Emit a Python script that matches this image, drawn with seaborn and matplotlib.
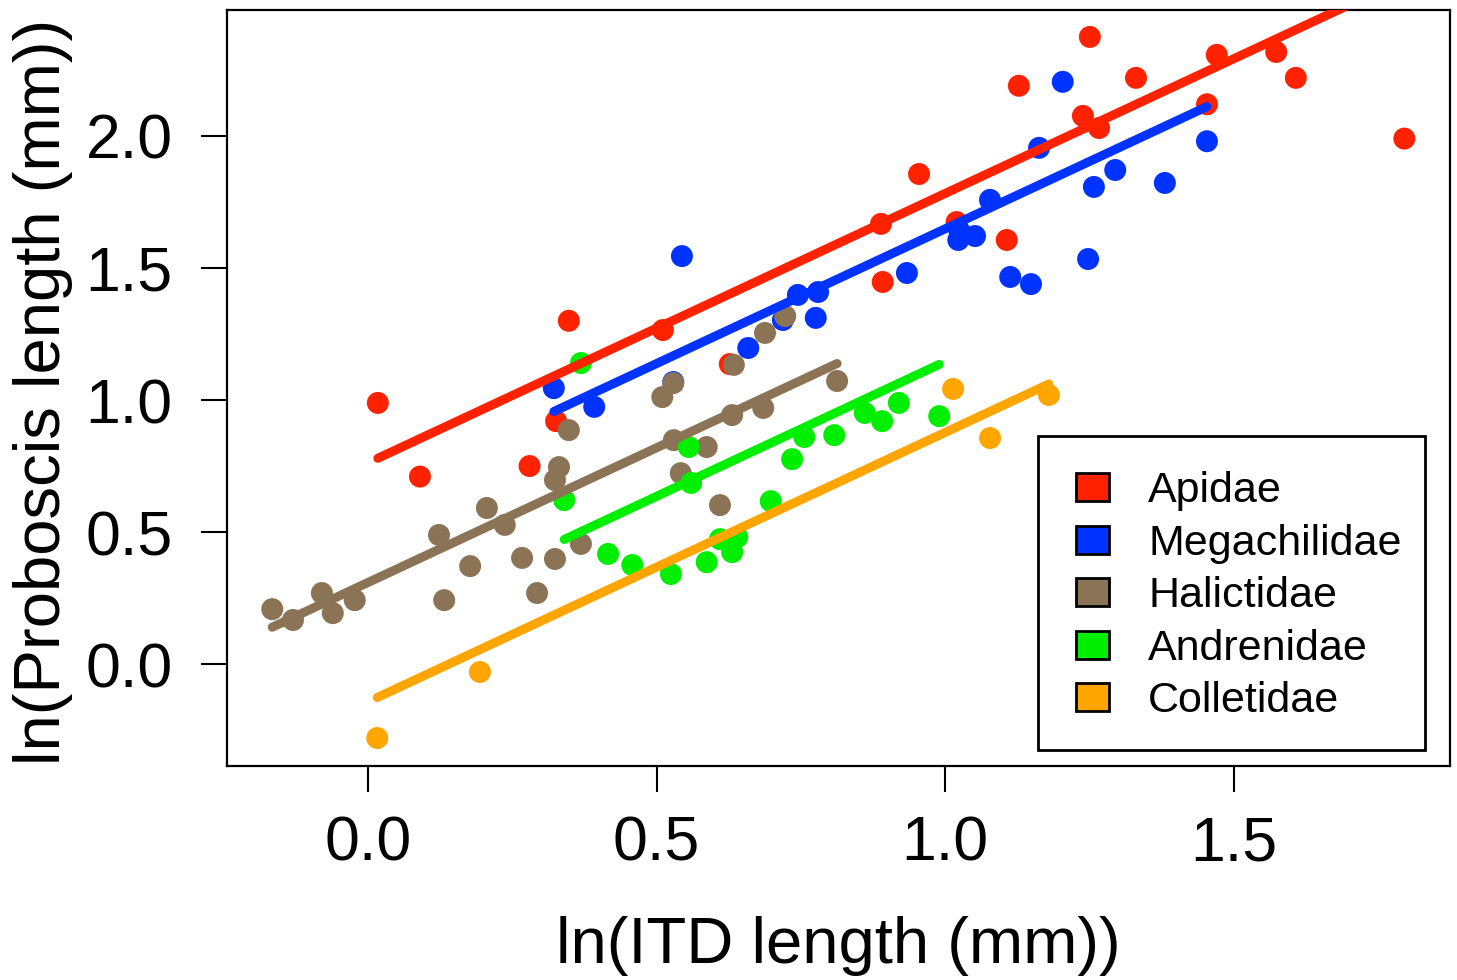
import pandas as pd
import seaborn as sns
import numpy as np
import matplotlib.pyplot as plt
from matplotlib.patches import Patch, Rectangle

# families and colours
families = ["Apidae", "Megachilidae", "Halictidae", "Andrenidae", "Colletidae"]
colors = ["#FF2200", "#0033FF", "#8B7355", "#00EE00", "#FFA500"]

# ln(ITD), ln(proboscis)
api_x = [0.017, 0.09, 0.28, 0.326, 0.348, 0.511, 0.627, 0.889, 0.955, 0.892, 1.02,
         1.107, 1.128, 1.251, 1.331, 1.239, 1.267, 1.471, 1.574, 1.608, 1.454, 1.796]
api_y = [0.989, 0.71, 0.75, 0.92, 1.30, 1.265, 1.136, 1.667, 1.856, 1.447, 1.674,
         1.606, 2.19, 2.375, 2.22, 2.076, 2.03, 2.307, 2.318, 2.22, 2.12, 1.99]

meg_x = [0.322, 0.392, 0.544, 0.745, 0.780, 0.776, 0.659, 0.719, 0.529, 0.934, 1.023, 1.052,
         1.025, 1.078, 1.113, 1.149, 1.163, 1.204, 1.454, 1.295, 1.258, 1.381, 1.248]
meg_y = [1.045, 0.974, 1.545, 1.398, 1.409, 1.311, 1.197, 1.303, 1.068, 1.481, 1.606, 1.621,
         1.640, 1.758, 1.466, 1.439, 1.955, 2.205, 1.98, 1.871, 1.807, 1.822, 1.534]

hal_x = [-0.166, -0.130, -0.080, -0.061, -0.023, 0.123, 0.132, 0.177, 0.206, 0.237, 0.267,
         0.293, 0.324, 0.331, 0.324, 0.348, 0.369, 0.634, 0.688, 0.723, 0.529, 0.510, 0.813,
         0.631, 0.685, 0.530, 0.587, 0.542, 0.610]
hal_y = [0.208, 0.167, 0.269, 0.193, 0.242, 0.489, 0.242, 0.371, 0.591, 0.527, 0.402,
         0.269, 0.398, 0.746, 0.697, 0.886, 0.455, 1.133, 1.254, 1.318, 1.064, 1.011, 1.072,
         0.943, 0.970, 0.848, 0.822, 0.723, 0.602]

and_x = [0.340, 0.416, 0.458, 0.369, 0.556, 0.560, 0.525, 0.587, 0.610, 0.640, 0.631,
         0.698, 0.735, 0.756, 0.808, 0.861, 0.891, 0.920, 0.990]
and_y = [0.621, 0.417, 0.375, 1.140, 0.822, 0.686, 0.341, 0.386, 0.473, 0.481, 0.424,
         0.617, 0.776, 0.860, 0.867, 0.951, 0.920, 0.989, 0.939]

col_x = [0.016, 0.194, 1.014, 1.078, 1.180]
col_y = [-0.280, -0.030, 1.042, 0.856, 1.019]

# parallel fitted lines (common slope)
slope = 1.02
intercepts = [0.762, 0.628, 0.309, 0.125, -0.143]

xs = [api_x, meg_x, hal_x, and_x, col_x]
ys = [api_y, meg_y, hal_y, and_y, col_y]
df = pd.concat([pd.DataFrame({"itd": x, "prob": y, "family": f})
                for f, x, y in zip(families, xs, ys)], ignore_index=True)

sns.set_theme(style="white")
plt.rcParams["font.family"] = ["Liberation Sans", "DejaVu Sans"]
plt.rcParams["text.color"] = "black"
plt.rcParams["axes.labelcolor"] = "black"

fig = plt.figure(figsize=(14.57, 9.8), dpi=100)
ax = fig.add_axes([227 / 1457, 1 - 766 / 980, 1223 / 1457, 756 / 980])

sns.scatterplot(data=df, x="itd", y="prob", hue="family", hue_order=families,
                palette=colors, s=250, linewidth=0, legend=False, ax=ax, zorder=2)

for f, c, b in zip(families, colors, intercepts):
    sub = df[df.family == f]
    lx = np.array([sub.itd.min(), sub.itd.max()])
    sns.lineplot(x=lx, y=b + slope * lx, color=c, lw=6.5, ax=ax,
                 solid_capstyle="round", zorder=3)

ax.set_xlim(-0.2444, 1.8752)
ax.set_ylim(-0.386, 2.477)
ax.set_xticks([0.0, 0.5, 1.0, 1.5])
ax.set_yticks([0.0, 0.5, 1.0, 1.5, 2.0])
ax.set_xticklabels(["0.0", "0.5", "1.0", "1.5"], fontsize=45)
ax.set_yticklabels(["0.0", "0.5", "1.0", "1.5", "2.0"], fontsize=45)
ax.tick_params(axis="x", direction="out", length=19, width=1.5, pad=16, bottom=True,
               colors="black")
ax.tick_params(axis="y", direction="out", length=19, width=1.5, pad=20, left=True,
               colors="black")
for s in ax.spines.values():
    s.set_color("black")
    s.set_linewidth(1.6)

ax.set_xlabel("ln(ITD length (mm))", fontsize=47, color="black")
ax.set_ylabel("ln(Proboscis length (mm))", fontsize=47, color="black")
ax.xaxis.label.set_va("baseline")
ax.xaxis.set_label_coords(0.5, -0.26)
ax.yaxis.label.set_va("baseline")
ax.yaxis.set_label_coords(-0.1366, 0.495)

# legend box (R style, square corners)
ax.add_patch(Rectangle((0.6631, 0.02116), 0.3164, 0.4153, transform=ax.transAxes,
                       facecolor="white", edgecolor="black", lw=2, zorder=4))
handles = [Patch(facecolor=c, edgecolor="black", linewidth=2) for c in colors]
leg = ax.legend(handles, families, loc="upper left", bbox_to_anchor=(0.668, 0.4325),
                fontsize=31, frameon=False, handlelength=0.766, handleheight=0.63,
                handletextpad=0.906, labelspacing=0.29, borderpad=0.75, borderaxespad=0)
leg.set_zorder(5)
for t in leg.get_texts():
    t.set_color("black")

plt.savefig("out.png", dpi=100)
